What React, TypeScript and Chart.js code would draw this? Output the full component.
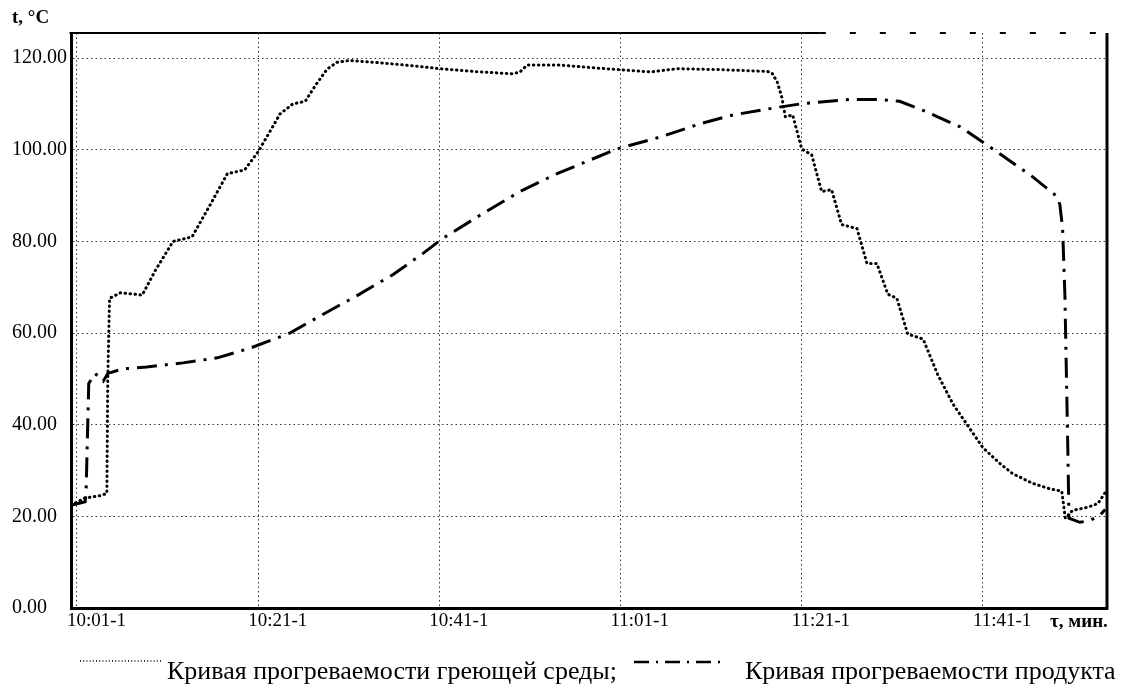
import React, { useEffect, useRef } from 'react';
import { Chart, registerables } from 'chart.js';

Chart.register(...registerables);

const FONT = "'Liberation Serif', 'Times New Roman', Times, serif";

// x values: minutes since 10:00
const timeTickValues = [1, 21, 41, 61, 81, 101];
const timeTickLabels = ['10:01-1', '10:21-1', '10:41-1', '11:01-1', '11:21-1', '11:41-1'];
const xMin = 0.34;
const xMax = 114.7;
const tempMin = 0;
const tempMax = 125.5;
const tempStep = 20;

const yAxisTitle = 't, °C';
const xAxisTitle = 'τ, мин.';
const seriesLabels = ['Кривая прогреваемости греющей среды;', 'Кривая прогреваемости продукта'];

// Heating medium (dotted)
const mediumMinutes = [
  0.34, 1.9, 3.5, 4.3, 4.4, 4.6, 5.8, 8.2, 9.6, 11.6, 13.7, 15.7, 17.6, 19.5, 21.0, 22.3, 23.4, 24.8,
  26.2, 27.3, 28.6, 29.7, 31.1, 34.4, 37.8, 41.1, 45.5, 49.1, 49.9, 50.7, 54.3, 58.7, 64.3, 67.2,
  72.0, 77.2, 77.7, 78.3, 78.8, 79.2, 80.0, 81.0, 82.1, 83.2, 84.3, 85.4, 87.1, 88.2, 89.3, 90.5,
  91.5, 92.7, 94.4, 96.0, 97.7, 101.0, 102.9, 104.3, 106.5, 108.4, 109.7, 110.1, 110.9, 112.6, 113.7, 114.5,
];
const mediumTemps = [
  22.5, 24.0, 24.5, 25.0, 50.0, 67.6, 68.8, 68.3, 73.5, 80.0, 81.0, 88.0, 94.8, 95.6, 99.6, 104.0, 107.8, 110.0,
  110.6, 114.0, 117.6, 119.1, 119.5, 119.0, 118.4, 117.7, 117.0, 116.6, 117.0, 118.5, 118.5, 117.8, 117.0, 117.7,
  117.5, 117.1, 116.8, 114.8, 111.5, 107.2, 107.6, 100.2, 98.9, 90.9, 91.3, 83.7, 82.8, 75.2, 75.2, 68.5,
  67.6, 59.8, 58.7, 51.0, 44.5, 35.0, 31.5, 29.3, 27.2, 26.0, 25.5, 19.6, 21.3, 22.0, 22.8, 25.2,
];

// Product (dash-dot)
const productMinutes = [
  0.34, 1.9, 2.0, 2.3, 3.0, 3.9, 4.4, 6.1, 8.7, 12.7, 16.5, 20.1, 24.5, 27.8, 32.2, 35.9, 39.2, 41.4,
  45.8, 49.9, 54.0, 60.6, 65.4, 69.8, 73.4, 77.8, 80.8, 86.3, 89.6, 91.8, 94.4, 98.5, 102.1, 106.5,
  109.2, 109.5, 109.8, 110.05, 110.4, 110.5, 111.7, 112.8, 113.9, 114.5,
];
const productTemps = [
  22.4, 23.2, 25.0, 49.0, 51.2, 49.5, 51.2, 52.2, 52.6, 53.5, 54.6, 56.7, 60.0, 63.7, 68.5, 72.8, 77.4, 80.7,
  86.1, 90.9, 94.8, 100.2, 102.8, 105.7, 107.6, 109.1, 110.0, 111.0, 111.0, 110.6, 108.6, 105.0, 100.2, 94.1,
  89.8, 88.0, 82.8, 68.5, 32.0, 19.6, 18.7, 19.1, 20.2, 21.5,
];

const mediumDash = [0.5, 4.5];
const productDash = [20, 8, 3, 8];

const framePlugin = {
  id: 'frameAndLegend',
  afterDraw(chart: any) {
    const { ctx, chartArea, scales } = chart;
    const { left, right, top, bottom } = chartArea;
    const x = scales.x;
    ctx.save();
    ctx.strokeStyle = '#000';
    // right border
    ctx.lineWidth = 3;
    ctx.setLineDash([]);
    ctx.beginPath();
    ctx.moveTo(right, top);
    ctx.lineTo(right, bottom + 1.5);
    ctx.stroke();
    // top border (partly faded in original)
    const split = x.getPixelForValue(83);
    ctx.lineWidth = 2;
    ctx.beginPath();
    ctx.moveTo(left - 1.5, top);
    ctx.lineTo(split, top);
    ctx.stroke();
    ctx.setLineDash([6, 24]);
    ctx.beginPath();
    ctx.moveTo(split, top);
    ctx.lineTo(right, top);
    ctx.stroke();
    ctx.setLineDash([]);

    // x unit label
    ctx.fillStyle = '#000';
    ctx.font = `bold 19px ${FONT}`;
    ctx.textAlign = 'left';
    ctx.textBaseline = 'middle';
    ctx.fillText(xAxisTitle, 1050, 622);

    // legend
    const items = [
      { sx: 80, sw: 82, sy: 661, tx: 167, dash: [1, 2.2], lw: 1.6 },
      { sx: 634, sw: 92, sy: 662, tx: 745, dash: [15, 7, 2, 7], lw: 2.5 },
    ];
    ctx.font = `26px ${FONT}`;
    items.forEach((it, i) => {
      const ds = chart.data.datasets[i];
      ctx.strokeStyle = ds.borderColor;
      ctx.lineWidth = it.lw;
      ctx.setLineDash(it.dash);
      ctx.beginPath();
      ctx.moveTo(it.sx, it.sy);
      ctx.lineTo(it.sx + it.sw, it.sy);
      ctx.stroke();
      ctx.setLineDash([]);
      ctx.fillText(ds.label, it.tx, 672);
    });
    ctx.restore();
  },
};

export default function App() {
  const ref = useRef<HTMLCanvasElement | null>(null);

  useEffect(() => {
    if (!ref.current) return;
    const gridCommon = {
      display: true,
      color: 'rgba(0,0,0,0.8)',
      lineWidth: 1,
      drawTicks: false,
    };
    const chart = new Chart(ref.current, {
      type: 'line',
      data: {
        datasets: [
          {
            label: seriesLabels[0],
            data: mediumMinutes.map((m, i) => ({ x: m, y: mediumTemps[i] })),
            borderColor: '#000',
            borderWidth: 3,
            borderDash: mediumDash,
            borderCapStyle: 'round',
            pointRadius: 0,
            tension: 0,
            fill: false,
          },
          {
            label: seriesLabels[1],
            data: productMinutes.map((m, i) => ({ x: m, y: productTemps[i] })),
            borderColor: '#000',
            borderWidth: 3,
            borderDash: productDash,
            borderCapStyle: 'butt',
            pointRadius: 0,
            tension: 0,
            fill: false,
          },
        ],
      },
      options: {
        responsive: false,
        animation: false,
        devicePixelRatio: 1,
        layout: { padding: { left: 12, right: 21, top: 0, bottom: 0 } },
        plugins: {
          legend: { display: false },
          tooltip: { enabled: false },
          title: {
            display: true,
            text: yAxisTitle,
            align: 'start',
            color: '#000',
            font: { family: FONT, size: 19, weight: 'bold' },
            padding: { top: 7, bottom: 3.2 },
          },
        },
        scales: {
          x: {
            type: 'linear',
            min: xMin,
            max: xMax,
            afterBuildTicks: (scale: any) => {
              scale.ticks = timeTickValues.map((v) => ({ value: v }));
            },
            afterFit: (scale: any) => {
              scale.height = 80;
            },
            ticks: {
              autoSkip: false,
              maxRotation: 0,
              align: 'start',
              labelOffset: -10,
              padding: 2,
              color: '#000',
              font: { family: FONT, size: 19 },
              callback: (_v: any, i: number) => timeTickLabels[i],
            },
            grid: gridCommon,
            border: { display: true, color: '#000', width: 3, dash: [1.5, 3] },
          },
          y: {
            type: 'linear',
            min: tempMin,
            max: tempMax,
            afterFit: (scale: any) => {
              scale.width = 59;
            },
            ticks: {
              stepSize: tempStep,
              includeBounds: false,
              crossAlign: 'far',
              color: '#000',
              font: { family: FONT, size: 20 },
              callback: (v: any) => Number(v).toFixed(2),
            },
            grid: gridCommon,
            border: { display: true, color: '#000', width: 3, dash: [1.5, 3] },
          },
        },
      },
      plugins: [framePlugin],
    } as any);
    return () => chart.destroy();
  }, []);

  return (
    <div style={{ position: 'absolute', left: 0, top: 0, width: 1128, height: 688, background: '#fff' }}>
      <canvas ref={ref} width={1128} height={688} style={{ display: 'block' }} />
    </div>
  );
}
